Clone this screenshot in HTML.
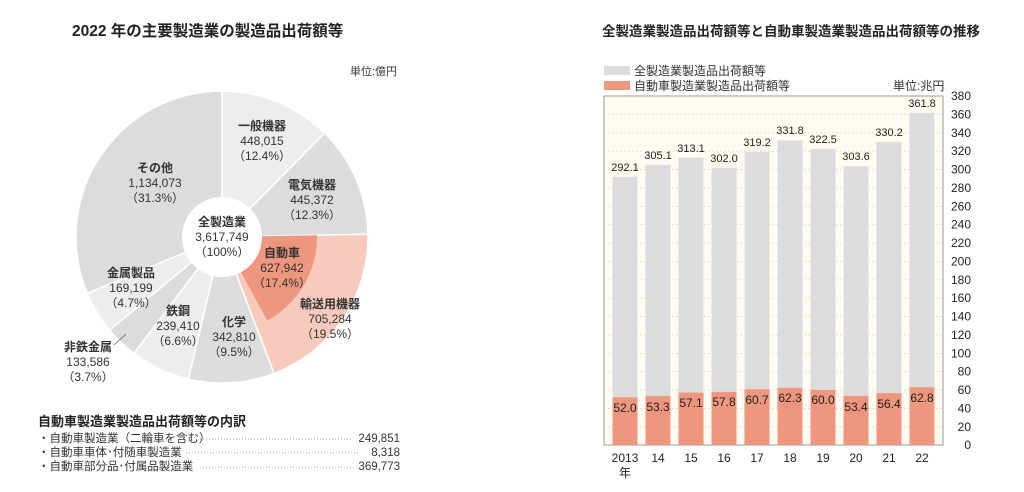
<!DOCTYPE html>
<html><head><meta charset="utf-8"><style>
body{margin:0;background:#fff}
svg{display:block;font-family:"Liberation Sans","Noto Sans CJK JP",sans-serif}
.b{font-weight:bold}
</style></head><body>
<svg width="1024" height="492" viewBox="0 0 1024 492">
<text x="72" y="36" font-size="15.5" class="b" fill="#222">2022 年の主要製造業の製造品出荷額等</text>
<text x="350" y="75" font-size="11" fill="#333">単位:億円</text>
<g stroke="#fff" stroke-width="1.5">
<path d="M222,237 L222,91 A146,146 0 0 1 324.6,133.1Z" fill="#ededee"/>
<path d="M222,237 L324.6,133.1 A146,146 0 0 1 368,234.3Z" fill="#dcdcdc"/>
<path d="M222,237 L368,234.3 A146,146 0 0 1 274,373.4Z" fill="#f8cabc"/>
<path d="M222,237 L274,373.4 A146,146 0 0 1 188.4,379.1Z" fill="#dcdcdc"/>
<path d="M222,237 L188.4,379.1 A146,146 0 0 1 133.9,353.4Z" fill="#ededee"/>
<path d="M222,237 L133.9,353.4 A146,146 0 0 1 109.5,330.1Z" fill="#dcdcdc"/>
<path d="M222,237 L109.5,330.1 A146,146 0 0 1 87.3,293.3Z" fill="#ededee"/>
<path d="M222,237 L87.3,293.3 A146,146 0 0 1 222,91Z" fill="#dcdcdc"/>
<path d="M222,237 L317,235.2 A95,95 0 0 1 267.2,320.5Z" fill="#ef967f" stroke="none"/>
</g>
<circle cx="222" cy="237" r="40" fill="#fff"/>
<g font-size="12" fill="#333" text-anchor="middle">
<text x="222" y="226" class="b">全製造業</text><text x="222" y="241">3,617,749</text><text x="222" y="256">（100%）</text>
<text x="262" y="130" class="b">一般機器</text><text x="262" y="145">448,015</text><text x="262" y="160">（12.4%）</text>
<text x="312" y="189" class="b">電気機器</text><text x="312" y="204">445,372</text><text x="312" y="219">（12.3%）</text>
<text x="282" y="257" class="b">自動車</text><text x="282" y="272">627,942</text><text x="282" y="287">（17.4%）</text>
<text x="330" y="308" class="b">輸送用機器</text><text x="330" y="323">705,284</text><text x="330" y="338">（19.5%）</text>
<text x="234" y="326" class="b">化学</text><text x="234" y="341">342,810</text><text x="234" y="356">（9.5%）</text>
<text x="178" y="315" class="b">鉄鋼</text><text x="178" y="330">239,410</text><text x="178" y="345">（6.6%）</text>
<text x="131" y="277" class="b">金属製品</text><text x="131" y="292">169,199</text><text x="131" y="307">（4.7%）</text>
<text x="155" y="172" class="b">その他</text><text x="155" y="187">1,134,073</text><text x="155" y="202">（31.3%）</text>
<text x="88" y="351" class="b">非鉄金属</text><text x="88" y="366">133,586</text><text x="88" y="381">（3.7%）</text>
</g>
<line x1="114" y1="345" x2="126" y2="334" stroke="#666" stroke-width="0.8"/>
<text x="38" y="426" font-size="13" class="b" fill="#222">自動車製造業製造品出荷額等の内訳</text>
<g font-size="11.5" fill="#333">
<text x="38" y="442">・自動車製造業（二輪車を含む）</text><text x="400" y="442" text-anchor="end">249,851</text>
<text x="38" y="456">・自動車車体･付随車製造業</text><text x="400" y="456" text-anchor="end">8,318</text>
<text x="38" y="470">・自動車部分品･付属品製造業</text><text x="400" y="470" text-anchor="end">369,773</text>
</g>
<g stroke="#888" stroke-dasharray="1,2" stroke-width="0.8">
<line x1="200" y1="439" x2="352" y2="439"/><line x1="186" y1="453" x2="360" y2="453"/><line x1="200" y1="467" x2="352" y2="467"/>
</g>
<text x="602" y="36" font-size="13.5" class="b" fill="#222">全製造業製造品出荷額等と自動車製造業製造品出荷額等の推移</text>
<rect x="604" y="66" width="26" height="9" fill="#dcdcdc"/><text x="634" y="75" font-size="12" fill="#333">全製造業製造品出荷額等</text>
<rect x="604" y="81" width="26" height="9" fill="#ef967f"/><text x="634" y="90" font-size="12" fill="#333">自動車製造業製造品出荷額等</text>
<text x="893" y="90" font-size="12" fill="#333">単位:兆円</text>
<rect x="604" y="96" width="339" height="349" fill="#fefbf2" stroke="#999" stroke-width="1"/>
<g stroke="#d8d4c8" stroke-dasharray="2,2" stroke-width="0.7">
<line x1="604" x2="943" y1="114.4" y2="114.4"/><line x1="604" x2="943" y1="132.8" y2="132.8"/><line x1="604" x2="943" y1="151.1" y2="151.1"/><line x1="604" x2="943" y1="169.5" y2="169.5"/><line x1="604" x2="943" y1="187.9" y2="187.9"/><line x1="604" x2="943" y1="206.3" y2="206.3"/><line x1="604" x2="943" y1="224.7" y2="224.7"/><line x1="604" x2="943" y1="243.1" y2="243.1"/><line x1="604" x2="943" y1="261.4" y2="261.4"/><line x1="604" x2="943" y1="279.8" y2="279.8"/><line x1="604" x2="943" y1="298.2" y2="298.2"/><line x1="604" x2="943" y1="316.6" y2="316.6"/><line x1="604" x2="943" y1="335" y2="335"/><line x1="604" x2="943" y1="353.4" y2="353.4"/><line x1="604" x2="943" y1="371.7" y2="371.7"/><line x1="604" x2="943" y1="390.1" y2="390.1"/><line x1="604" x2="943" y1="408.5" y2="408.5"/><line x1="604" x2="943" y1="426.9" y2="426.9"/>
</g>
<g fill="#dcdcdc">
<rect x="612.5" y="176.8" width="25" height="268.2"/><rect x="645.5" y="164.9" width="25" height="280.1"/><rect x="678.5" y="157.6" width="25" height="287.4"/><rect x="711.5" y="167.8" width="25" height="277.2"/><rect x="744.5" y="152" width="25" height="293"/><rect x="777.5" y="140.4" width="25" height="304.6"/><rect x="810.5" y="148.9" width="25" height="296.1"/><rect x="843.5" y="166.3" width="25" height="278.7"/><rect x="876.5" y="141.9" width="25" height="303.1"/><rect x="909.5" y="112.9" width="25" height="332.1"/>
</g>
<g fill="#ef967f">
<rect x="612.5" y="397.3" width="25" height="47.7"/><rect x="645.5" y="396.1" width="25" height="48.9"/><rect x="678.5" y="392.6" width="25" height="52.4"/><rect x="711.5" y="391.9" width="25" height="53.1"/><rect x="744.5" y="389.3" width="25" height="55.7"/><rect x="777.5" y="387.8" width="25" height="57.2"/><rect x="810.5" y="389.9" width="25" height="55.1"/><rect x="843.5" y="396" width="25" height="49"/><rect x="876.5" y="393.2" width="25" height="51.8"/><rect x="909.5" y="387.3" width="25" height="57.7"/>
</g>
<g font-size="11" fill="#222" text-anchor="middle">
<text x="625" y="171">292.1</text><text x="658" y="159">305.1</text><text x="691" y="152">313.1</text><text x="724" y="162">302.0</text><text x="757" y="146">319.2</text><text x="790" y="134">331.8</text><text x="823" y="143">322.5</text><text x="856" y="160">303.6</text><text x="889" y="136">330.2</text><text x="922" y="107">361.8</text>
</g>
<g font-size="12" fill="#222" text-anchor="middle">
<text x="625" y="412">52.0</text><text x="658" y="411">53.3</text><text x="691" y="407">57.1</text><text x="724" y="406">57.8</text><text x="757" y="404">60.7</text><text x="790" y="402">62.3</text><text x="823" y="404">60.0</text><text x="856" y="411">53.4</text><text x="889" y="408">56.4</text><text x="922" y="402">62.8</text>
</g>
<g font-size="12" fill="#222" text-anchor="middle">
<text x="625" y="462">2013</text><text x="625" y="477">年</text><text x="658" y="462">14</text><text x="691" y="462">15</text><text x="724" y="462">16</text><text x="757" y="462">17</text><text x="790" y="462">18</text><text x="823" y="462">19</text><text x="856" y="462">20</text><text x="889" y="462">21</text><text x="922" y="462">22</text>
</g>
<g font-size="12" fill="#222" text-anchor="end">
<text x="971" y="100">380</text><text x="971" y="118.4">360</text><text x="971" y="136.8">340</text><text x="971" y="155.1">320</text><text x="971" y="173.5">300</text><text x="971" y="191.9">280</text><text x="971" y="210.3">260</text><text x="971" y="228.7">240</text><text x="971" y="247.1">220</text><text x="971" y="265.4">200</text><text x="971" y="283.8">180</text><text x="971" y="302.2">160</text><text x="971" y="320.6">140</text><text x="971" y="339">120</text><text x="971" y="357.4">100</text><text x="971" y="375.7">80</text><text x="971" y="394.1">60</text><text x="971" y="412.5">40</text><text x="971" y="430.9">20</text><text x="971" y="449">0</text>
</g>
</svg>
</body></html>
